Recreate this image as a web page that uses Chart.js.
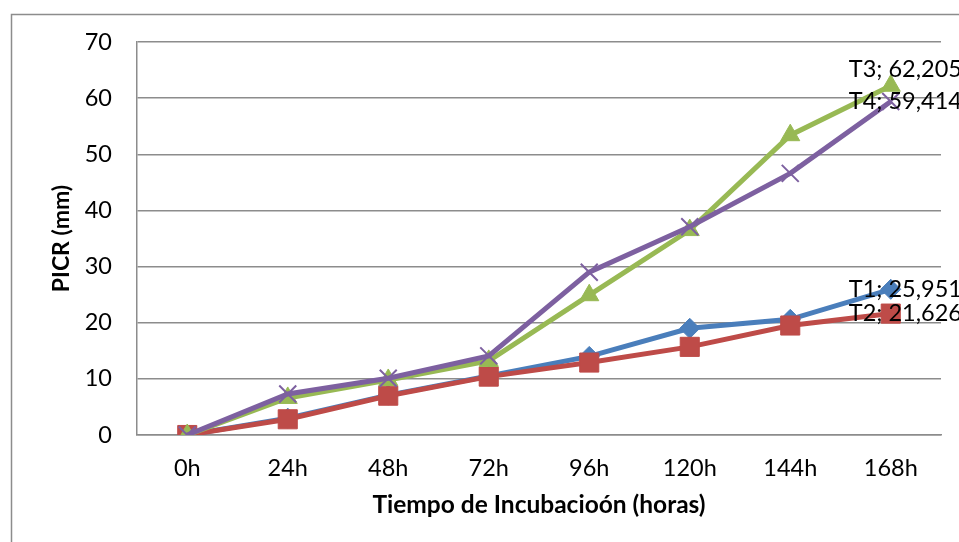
<!DOCTYPE html>
<html>
<head>
<meta charset="utf-8">
<script src="https://cdn.jsdelivr.net/npm/chart.js@4"></script>
<style>
  html, body { margin: 0; padding: 0; background: #fff; }
  #wrap { width: 959px; height: 542px; position: relative; }
</style>
</head>
<body>
<div id="wrap"><canvas id="picrChart"></canvas></div>
<script>
  // ---- DATA ----
  const hours = ["0h", "24h", "48h", "72h", "96h", "120h", "144h", "168h"];
  const t1 = [0, 3.0, 7.1, 10.5, 14.0, 19.0, 20.6, 25.951];
  const t2 = [0, 2.8, 7.0, 10.4, 12.9, 15.7, 19.5, 21.626];
  const t3 = [0, 6.6, 9.8, 13.2, 24.9, 36.5, 53.4, 62.205];
  const t4 = [0, 7.3, 10.1, 14.1, 29.0, 37.1, 46.6, 59.414];
  const seriesNames = ["T1", "T2", "T3", "T4"];
  const yTicks = [0, 10, 20, 30, 40, 50, 60, 70];

  const FONT = "Lato";
  const GRID = "#8c8c8c";
  const TICK_SIZE = 23.5;

  // ---- PLUGIN: outer frame ----
  const outerFrame = {
    id: "outerFrame",
    beforeDraw(chart) {
      const { ctx } = chart;
      ctx.save();
      ctx.fillStyle = "#fff";
      ctx.fillRect(0, 0, chart.width, chart.height);
      ctx.strokeStyle = GRID;
      ctx.lineWidth = 1.5;
      ctx.strokeRect(11.5, 14.5, chart.width + 20, chart.height + 20);
      ctx.restore();
    }
  };

  // ---- PLUGIN: last point labels ("T1; 25,951") ----
  const lastLabels = {
    id: "lastLabels",
    afterDatasetsDraw(chart) {
      const { ctx } = chart;
      ctx.save();
      ctx.font = TICK_SIZE + "px " + FONT;
      ctx.fillStyle = "#000";
      ctx.textAlign = "left";
      ctx.textBaseline = "middle";
      chart.data.datasets.forEach((ds, i) => {
        const meta = chart.getDatasetMeta(i);
        const last = meta.data.length - 1;
        const pt = meta.data[last];
        const val = ds.data[last].toFixed(3).replace(".", ",");
        const dy = ds.label === "T3" ? -16 : 0;
        ctx.fillText(ds.label + "; " + val, pt.x - 42, pt.y + dy);
      });
      ctx.restore();
    }
  };

  function line(label, data, color, style, radius, order, pbw) {
    return {
      label: label,
      data: data,
      borderColor: color,
      backgroundColor: color,
      borderWidth: 5,
      tension: 0,
      pointStyle: style,
      pointRadius: radius,
      pointHoverRadius: radius,
      pointBackgroundColor: color,
      pointBorderColor: color,
      pointBorderWidth: pbw,
      order: order
    };
  }

  new Chart(document.getElementById("picrChart"), {
    type: "line",
    data: {
      labels: hours,
      datasets: [
        line(seriesNames[0], t1, "#4a7ebb", "rectRot", 10, 3, 1),
        line(seriesNames[1], t2, "#be4b48", "rect", 13.5, 2, 1),
        line(seriesNames[2], t3, "#98b954", "triangle", 11, 1, 1),
        line(seriesNames[3], t4, "#7d60a0", "crossRot", 12, 0, 2)
      ]
    },
    options: {
      responsive: true,
      maintainAspectRatio: false,
      animation: false,
      devicePixelRatio: 1,
      layout: { padding: { top: 42, right: 18, left: 0, bottom: 0 } },
      plugins: {
        legend: { display: false },
        tooltip: { enabled: false }
      },
      scales: {
        x: {
          offset: true,
          afterFit(s) { s.height = 107; },
          grid: { display: false, drawTicks: false },
          border: { display: true, color: GRID, width: 1.5 },
          ticks: { color: "#000", padding: 19, font: { family: FONT, size: TICK_SIZE } },
          title: {
            display: true,
            text: "Tiempo de Incubacioón (horas)",
            color: "#000",
            font: { family: FONT, size: 24.5, weight: "bold" },
            padding: { top: 0, bottom: 22 }
          }
        },
        y: {
          min: 0,
          max: 70,
          afterFit(s) { s.width = 137; },
          afterBuildTicks(s) { s.ticks = yTicks.map(v => ({ value: v })); },
          grid: { color: GRID, lineWidth: 1.5, drawTicks: false },
          border: { display: true, color: GRID, width: 1.5 },
          ticks: { color: "#000", padding: 25, font: { family: FONT, size: TICK_SIZE } },
          title: {
            display: true,
            text: "PICR (mm)",
            color: "#000",
            font: { family: FONT, size: 23, weight: "bold" },
            padding: { top: 48, bottom: 0 }
          }
        }
      }
    },
    plugins: [outerFrame, lastLabels]
  });
</script>
</body>
</html>
